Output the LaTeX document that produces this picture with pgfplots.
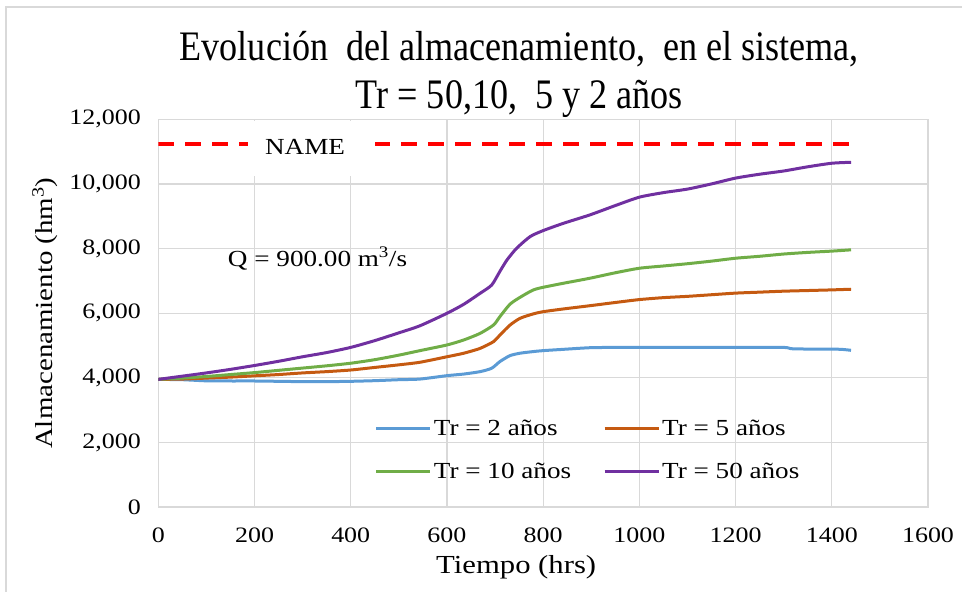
\documentclass[border=0pt]{standalone}
\usepackage{fontspec}
\setmainfont{Liberation Serif}[FakeStretch=1.18]
\newfontfamily\titlefont{Liberation Serif}[FakeStretch=0.86]
\usepackage{pgfplots}
\pgfplotsset{compat=1.18}
\definecolor{cblue}{HTML}{5B9BD5}
\definecolor{corange}{HTML}{C55A11}
\definecolor{cgreen}{HTML}{70AD47}
\definecolor{cpurple}{HTML}{7030A0}
\definecolor{cgrid}{HTML}{D9D9D9}
\begin{document}
\begin{tikzpicture}
\useasboundingbox (-158.3bp,-85bp) rectangle (803.7bp,507bp);
\draw[cgrid, line width=1.5bp] (-152.3bp,-90bp) -- (-152.3bp,500bp) -- (810bp,500bp);
\begin{axis}[
  scale only axis,
  width=769.7bp, height=387.7bp,
  xmin=0, xmax=1600, ymin=0, ymax=12000,
  xtick={0,200,...,1600},
  ytick={0,2000,...,12000},
  major tick length=0pt,
  axis line style={cgrid, line width=1.2bp},
  grid=major,
  major grid style={cgrid, line width=1.2bp},
  /pgf/number format/assume math mode=true,
  ticklabel style={font=\fontsize{22bp}{26bp}\selectfont, text=black},
  xticklabel style={/pgf/number format/1000 sep={}, yshift=-17bp},
  yticklabel style={/pgf/number format/1000 sep={,}, xshift=-14bp},
  scaled ticks=false,
  xlabel={Tiempo (hrs)},
  ylabel={Almacenamiento (hm\textsuperscript{3})},
  xlabel style={font=\fontsize{26bp}{30bp}\selectfont, at={(axis description cs:0.465,-0.155)}, anchor=center},
  ylabel style={font=\fontsize{24.5bp}{28bp}\selectfont, at={(axis description cs:-0.147,0.5)}, anchor=center, rotate=0},
  title={Evolución\ \ del almacenamiento,\ \ en el sistema,\\Tr = 50,10,\ \ 5 y 2 años},
  title style={font=\titlefont\fontsize{42bp}{48bp}\selectfont, align=center, at={(axis description cs:0.469,1.10)}, anchor=center},
  legend columns=2,
  legend cell align=left,
  legend style={draw=none, fill=none, at={(axis cs:450,2760)}, anchor=north west,
    font=\fontsize{23bp}{27bp}\selectfont, inner sep=0pt, row sep=22bp,
    /tikz/every even column/.append style={column sep=30bp}},
  legend image code/.code={\draw[#1] (0bp,0bp) -- (54bp,0bp);},
  every axis plot/.append style={line width=3bp, line join=round},
]
\addplot[cblue, smooth, tension=0.4] coordinates {
(0,3950) (50,3940) (100,3905) (150,3900) (200,3900) (250,3890) (300,3880) (350,3880) (400,3890) (450,3910) (500,3940) (544,3960) (600,4065) (635,4115) (669,4190) (693,4295) (710,4500) (731,4685) (752,4760) (779,4810) (800,4840) (842,4880) (897,4930) (950,4940) (1000,4940) (1100,4940) (1200,4940) (1300,4940) (1320,4895) (1400,4885) (1420,4880) (1440,4850)};
\addlegendentry{Tr = 2 años}
\addplot[corange, smooth, tension=0.4] coordinates {
(0,3950) (50,3960) (100,3990) (150,4020) (200,4060) (250,4100) (300,4150) (350,4190) (400,4240) (450,4320) (500,4400) (544,4480) (600,4650) (635,4760) (669,4910) (697,5120) (710,5320) (731,5630) (752,5840) (779,5975) (800,6045) (842,6130) (897,6230) (950,6330) (1000,6420) (1050,6480) (1100,6520) (1150,6570) (1200,6620) (1250,6650) (1300,6680) (1350,6700) (1400,6720) (1440,6740)};
\addlegendentry{Tr = 5 años}
\addplot[cgreen, smooth, tension=0.4] coordinates {
(0,3950) (50,3990) (100,4040) (150,4100) (200,4160) (250,4230) (300,4300) (350,4370) (400,4450) (450,4560) (500,4700) (544,4840) (600,5015) (635,5170) (669,5375) (697,5635) (710,5890) (731,6275) (752,6490) (779,6715) (800,6800) (842,6925) (897,7080) (950,7250) (1000,7390) (1050,7460) (1100,7530) (1150,7610) (1200,7700) (1250,7760) (1300,7830) (1350,7880) (1400,7920) (1440,7960)};
\addlegendentry{Tr = 10 años}
\addplot[cpurple, smooth, tension=0.4] coordinates {
(0,3950) (50,4050) (100,4150) (150,4260) (200,4380) (250,4510) (300,4650) (350,4780) (400,4940) (450,5150) (500,5390) (544,5610) (600,5995) (635,6275) (669,6615) (693,6870) (710,7290) (725,7650) (745,8010) (773,8370) (800,8555) (842,8780) (897,9040) (950,9330) (1000,9590) (1050,9730) (1100,9840) (1150,10000) (1200,10180) (1250,10300) (1300,10400) (1350,10530) (1400,10640) (1440,10670)};
\addlegendentry{Tr = 50 años}
\addplot[red, line width=4bp, dash pattern=on 16bp off 11bp, forget plot] coordinates {(0,11250) (1435,11250)};
\fill[white] (axis cs:186,11960) rectangle (axis cs:450,10250);
\node[font=\fontsize{23bp}{27bp}\selectfont] at (axis cs:305,11155) {NAME};
\node[font=\fontsize{23bp}{27bp}\selectfont] at (axis cs:331,7680) {Q = 900.00 m\textsuperscript{3}/s};
\end{axis}
\end{tikzpicture}
\end{document}
